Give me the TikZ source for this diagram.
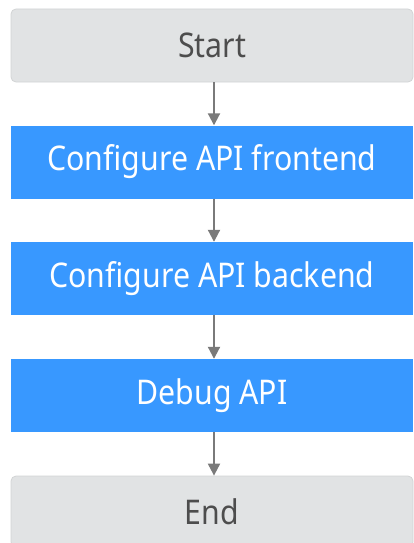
\documentclass[tikz,border=0pt]{standalone}
\usepackage{fontspec}
\setmainfont[FakeStretch=0.89]{Noto Sans}
\usetikzlibrary{arrows.meta}

\definecolor{termfill}{HTML}{E1E3E4}
\definecolor{termline}{HTML}{D2D4D5}
\definecolor{termtext}{HTML}{4D4D4D}
\definecolor{stepfill}{HTML}{3898FF}
\definecolor{flowline}{HTML}{7A7A7A}

\tikzset{
  terminal/.style={draw=termline, line width=0.8pt, fill=termfill, rounded corners=5pt,
    minimum width=402pt, text=termtext, font=\fontsize{34}{40}\selectfont,
    inner sep=0pt},
  stepbox/.style={fill=stepfill, minimum width=402pt, minimum height=73pt,
    text=white, font=\fontsize{34}{40}\selectfont, inner sep=0pt},
  flow/.style={draw=flowline, line width=2pt,
    -{Triangle[length=12pt, width=12pt]}, shorten >=0pt},
}

\begin{document}
\begin{tikzpicture}[x=1pt, y=1pt]
  \useasboundingbox (0,0) rectangle (414,-543);

  % terminals and process steps
  \node[terminal, minimum height=73pt] (start) at (212,-45.5) {Start};
  \node[stepbox] (front) at (212,-162) {Configure API frontend};
  \node[stepbox] (back)  at (212,-278.5) {Configure API backend};
  \node[stepbox] (debug) at (212,-395.5) {Debug API};
  \node[terminal, minimum height=71pt] (end) at (212,-511.5) {End};

  % connectors
  \draw[flow] ([xshift=2pt]start.south) -- ([xshift=2pt]front.north);
  \draw[flow] ([xshift=2pt]front.south) -- ([xshift=2pt]back.north);
  \draw[flow] ([xshift=2pt]back.south)  -- ([xshift=2pt]debug.north);
  \draw[flow] ([xshift=2pt]debug.south) -- ([xshift=2pt]end.north);
\end{tikzpicture}
\end{document}
